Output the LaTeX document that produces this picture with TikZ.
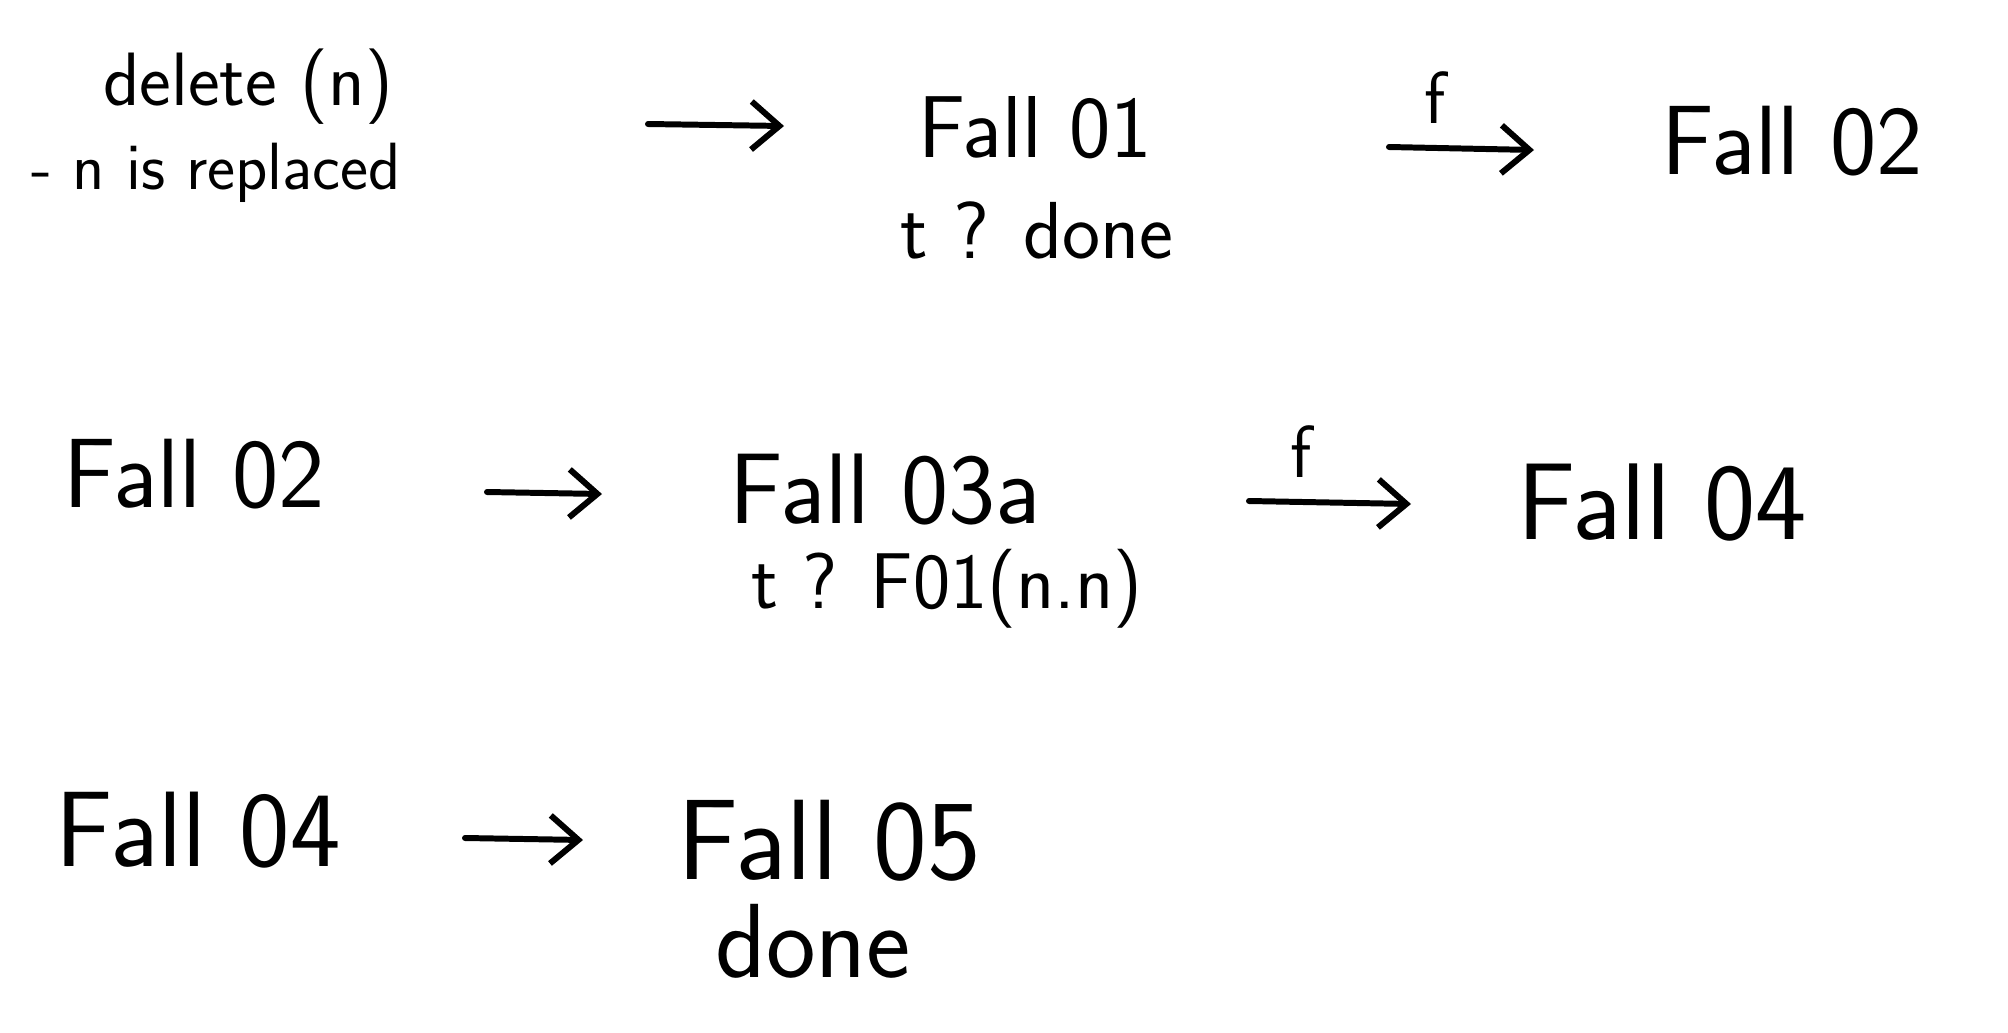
\documentclass[tikz,border=0pt]{standalone}
\usepackage{tikz}
\usetikzlibrary{arrows.meta}
\tikzset{
  hand/.style={font=\sffamily\fontsize{#1}{#1}\selectfont, inner sep=0pt},
  hand/.default=28,
  goes/.style={line width=1.7pt, line cap=round,
    -{Straight Barb[length=2.8mm, width=4.8mm, line width=1.7pt]}},
  flab/.style={hand=21, above=6pt, pos=0.32}
}

\begin{document}
\begin{tikzpicture}[x=0.01cm, y=-0.01cm]
    \useasboundingbox (0,0) rectangle (2008,1033);

    % --- first line: delete(n) ---
    \node[hand=21.5] (del)  at (248,87)  {delete (n)};
    \node[hand=19]   (repl) at (216,173) {- n is replaced};
    \node[hand=25]   (f01)  at (1035,128) {Fall 01};
    \node[hand=23]   (f01c) at (1037,230) {t ? done};
    \node[hand=28]   (f02a) at (1792,141) {Fall 02};

    \coordinate (a1s) at (648,124);  \coordinate (a1e) at (784,126);
    \coordinate (b1s) at (1389,147); \coordinate (b1e) at (1534,150);
    \draw[goes] (a1s) -- (a1e);
    \draw[goes] (b1s) -- node[flab] (lf1) {f} (b1e);

    % --- second line: from Fall 02 ---
    \node[hand=28]   (f02b) at (194,474) {Fall 02};
    \node[hand=28.5] (f03)  at (885,490) {Fall 03a};
    \node[hand=22.5] (f03c) at (947,589) {t ? F01(n.n)};
    \node[hand=31]   (f04a) at (1662,503) {Fall 04};

    \coordinate (a2s) at (487,492);  \coordinate (a2e) at (602,494);
    \coordinate (b2s) at (1249,501); \coordinate (b2e) at (1411,504);
    \draw[goes] (a2s) -- (a2e);
    \draw[goes] (b2s) -- node[flab] (lf2) {f} (b2e);

    % --- third line: from Fall 04 ---
    \node[hand=30.5] (f04b) at (198,830) {Fall 04};
    \node[hand=32.5] (f05)  at (829,841) {Fall 05};
    \node[hand=30]   (f05c) at (813,941) {done};

    \coordinate (a3s) at (465,838); \coordinate (a3e) at (583,840);
    \draw[goes] (a3s) -- (a3e);
\end{tikzpicture}
\end{document}
